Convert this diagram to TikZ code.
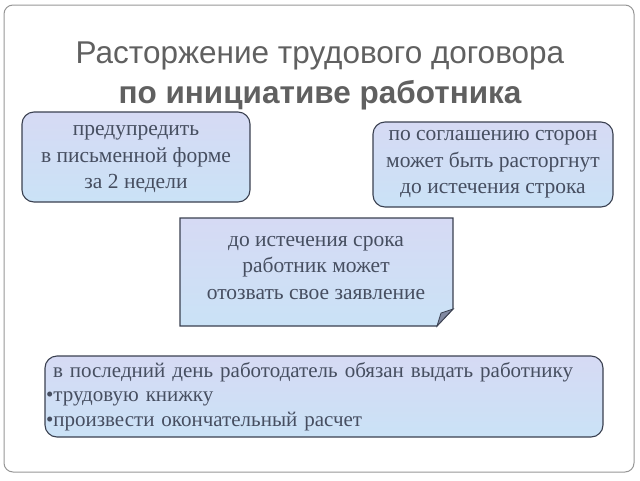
\documentclass[tikz,border=0pt]{standalone}
\usepackage{fontspec}
\setmainfont{Liberation Serif}
\newfontfamily\headfont{Liberation Sans}
\usetikzlibrary{calc,positioning}
\definecolor{headgray}{RGB}{96,96,96}
\definecolor{boxtext}{RGB}{70,78,96}
\definecolor{cardline}{RGB}{58,64,80}
\definecolor{paleA}{RGB}{214,218,244}
\definecolor{paleB}{RGB}{202,226,246}
\definecolor{framegray}{RGB}{150,150,150}
\definecolor{foldgray}{RGB}{128,136,160}

\begin{document}
\begin{tikzpicture}[x=1pt,y=-1pt,
	head/.style={font=\headfont\fontsize{31.5}{36}\selectfont, text=headgray},
	card/.style={draw=cardline, line width=1.1pt, rounded corners=12pt,
		top color=paleA, bottom color=paleB, align=center, text=boxtext,
		font=\fontsize{21.5}{26.5}\selectfont, inner sep=0pt}]
\useasboundingbox (0,0) rectangle (640,480);
\draw[framegray, line width=1pt, rounded corners=9pt] (4,5) rectangle (634,472);

\node[head] (title) at (320,56) {Расторжение трудового договора};
\node[head, font=\headfont\bfseries\fontsize{31.5}{36}\selectfont] (subtitle) at (320,95) {по инициативе работника};

\node[card, minimum width=228pt, minimum height=90pt, text depth=0pt] (warn) at (136,157)
	{предупредить\\в письменной форме\\за 2 недели};
\node[card, minimum width=240pt, minimum height=85pt] (agree) at (493,164.5)
	{по соглашению сторон\\может быть расторгнут\\до истечения строка};

% note with the curled corner
\path[draw=cardline, line width=1.1pt, top color=paleA, bottom color=paleB]
	(180,218) -- (453,218) -- (453,309) -- (437,326) -- (180,326) -- cycle;
\filldraw[fill=foldgray, draw=cardline, line width=0.8pt] (453,309) -- (441,313) -- (437,326) -- cycle;
\node[align=center, text=boxtext, font=\fontsize{21.5}{26.5}\selectfont] (recall) at (316,268)
	{до истечения срока\\работник может\\отозвать свое заявление};

\node[card, align=left, text width=556pt, minimum height=81pt, inner xsep=1pt,
	font=\fontsize{21}{24.5}\selectfont] (last) at (324,396.5)
	{\hspace{7pt}в последний день работодатель обязан выдать работнику\\
	•трудовую книжку\\
	•произвести окончательный расчет};
\end{tikzpicture}
\end{document}
